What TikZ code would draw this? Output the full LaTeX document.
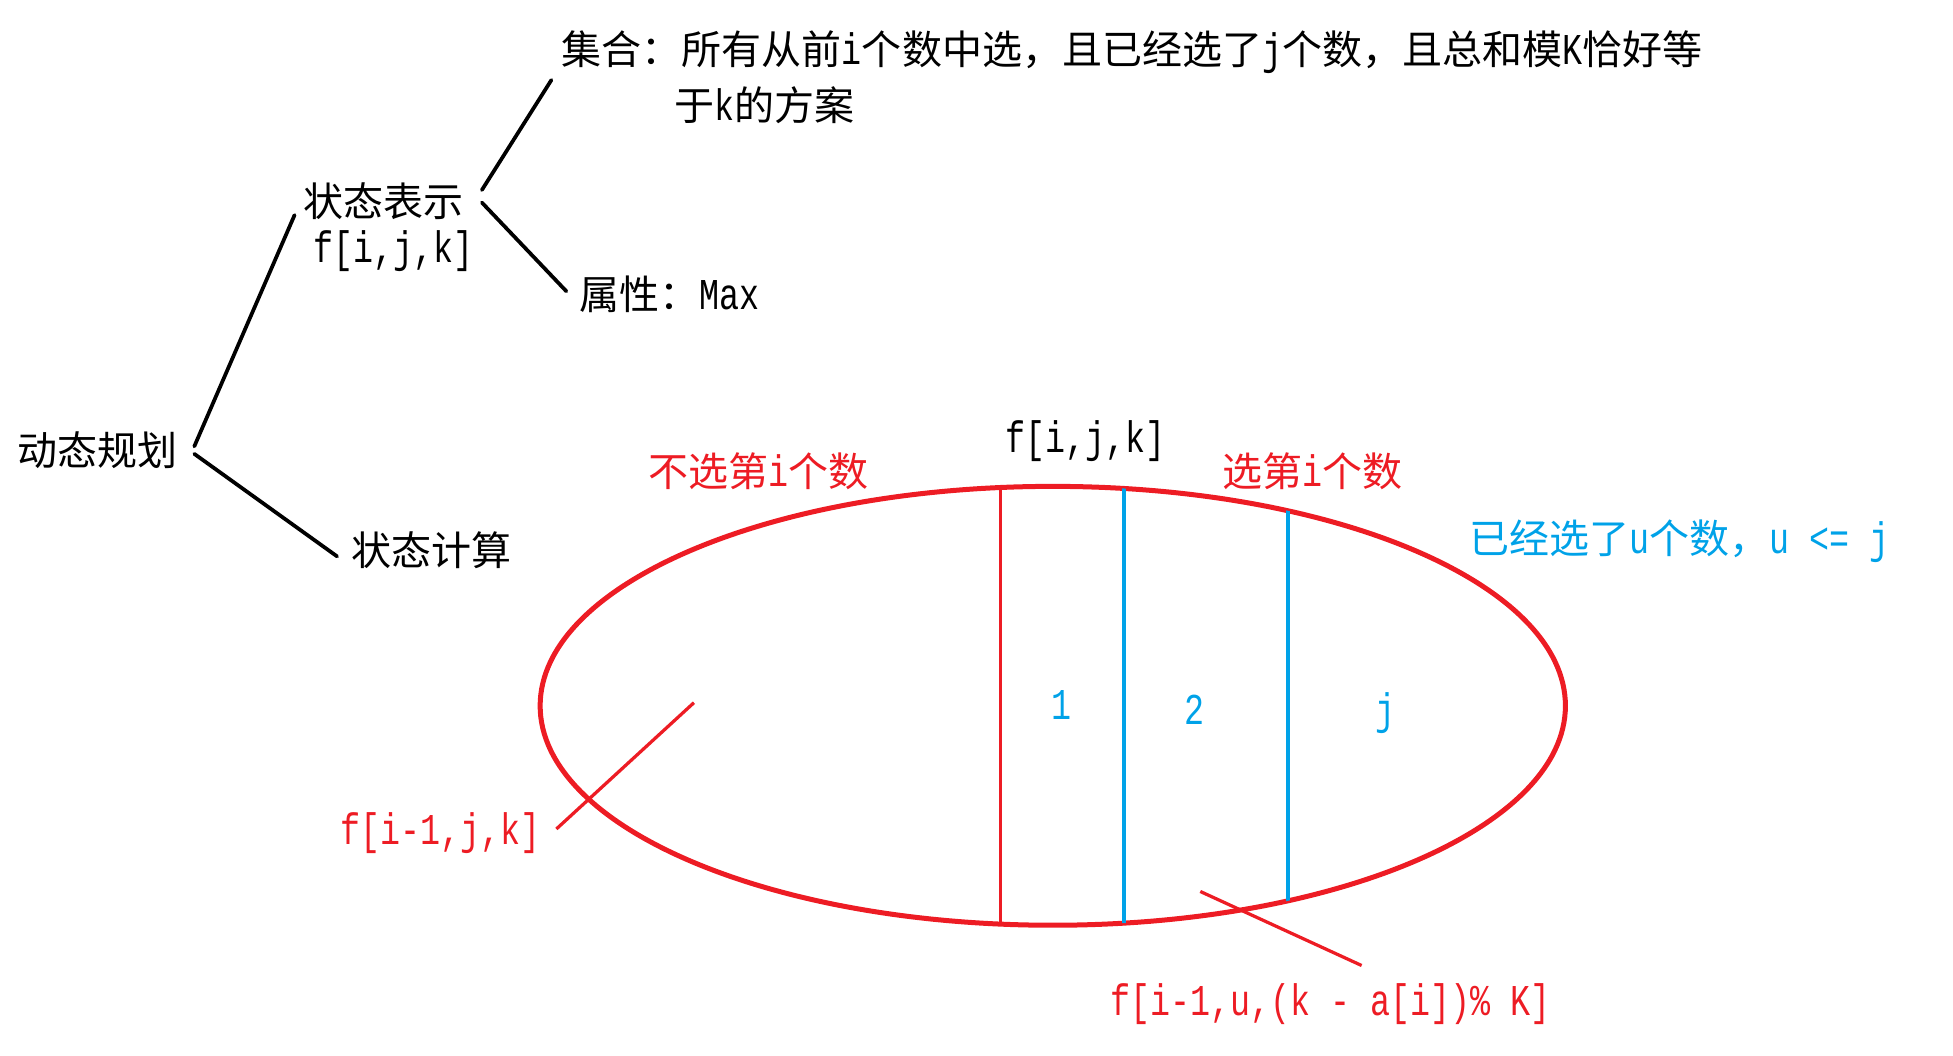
\documentclass[tikz,border=0pt]{standalone}
\usepackage{fontspec}
\setmainfont{Liberation Mono}[Scale=1.1, FakeStretch=0.758]
\newfontfamily\zhfont{Noto Sans CJK SC}
\newcommand{\zi}[1]{{\zhfont #1}}
\usepackage{xcolor}
\definecolor{paintred}{RGB}{237,28,36}
\definecolor{paintblue}{RGB}{0,162,232}
\tikzset{
  txt/.style={inner sep=0pt, font=\fontsize{16}{20}\selectfont},
  branch/.style={line width=1.5pt, line cap=round},
  pointer/.style={line width=1.3pt, paintred},
  redcut/.style={line width=1.3pt, paintred},
  bluecut/.style={line width=1.5pt, paintblue},
}

\begin{document}
\begin{tikzpicture}[x=0.5pt,y=0.5pt,yscale=-1,xscale=1]
\useasboundingbox (0,0) rectangle (1562,844);

% Text Node
\node [txt] (dp) at (78,360) {\zi{动态规划}};
% Text Node
\node [txt] (rep) at (307,161) {\zi{状态表示}};
\node [txt] (repf) at (315,201) {f[i,j,k]};
% Text Node
\node [txt] (calc) at (345,440) {\zi{状态计算}};
% Text Node
\node [txt, anchor=west] (set) at (449,42) {\zi{集合：所有从前}i\zi{个数中选，且已经选了}j\zi{个数，且总和模}K\zi{恰好等}};
\node [txt, anchor=west] (setb) at (539,84) {\zi{于}k\zi{的方案}};
% Text Node
\node [txt, anchor=west] (attr) at (463,235) {\zi{属性：}Max};

%Straight Lines
\draw [branch] ([shift={(13,-3)}]dp.east) -- ([shift={(-7,11)}]rep.west);
\draw [branch] ([shift={(13,3)}]dp.east) -- ([shift={(-11,5)}]calc.west);
\draw [branch] ([shift={(14,-9)}]rep.east) -- ([shift={(-8,22)}]set.west);
\draw [branch] ([shift={(14,1)}]rep.east) -- ([shift={(-10,-2)}]attr.west);

%Shape: Ellipse
\coordinate (ctr) at (842,564.5);
\draw [line width=2pt, paintred] (ctr) ellipse [x radius=410, y radius=175.5];
\begin{scope}
  \clip (ctr) ellipse [x radius=410, y radius=175.5];
  \draw [redcut] (800,380) -- (800,750);
  \draw [bluecut] (899,380) -- (899,750);
  \draw [bluecut] (1030,380) -- (1030,750);
\end{scope}

% Text Node
\node [txt] (top) at (868,353) {f[i,j,k]};
\node [txt, paintred] (nosel) at (607,377) {\zi{不选第}i\zi{个数}};
\node [txt, paintred] (sel) at (1050,377) {\zi{选第}i\zi{个数}};
\node [txt, paintblue, anchor=west] (chosen) at (1175,433) {\zi{已经选了}u\zi{个数，}u <= j};
\node [txt, paintblue] (one) at (849,564) {1};
\node [txt, paintblue] (two) at (955,568) {2};
\node [txt, paintblue] (jth) at (1108,570) {j};

%Straight Lines
\coordinate (inA) at (555,562);
\node [txt, paintred, anchor=east] (prev) at (433,666) {f[i-1,j,k]};
\draw [pointer] (inA) -- ([shift={(12,-3)}]prev.east);
\coordinate (inB) at (960,713);
\node [txt, paintred] (prevu) at (1064,803) {f[i-1,u,(k - a[i])\% K]};
\draw [pointer] (inB) -- ([shift={(25,-14)}]prevu.north);

\end{tikzpicture}
\end{document}
